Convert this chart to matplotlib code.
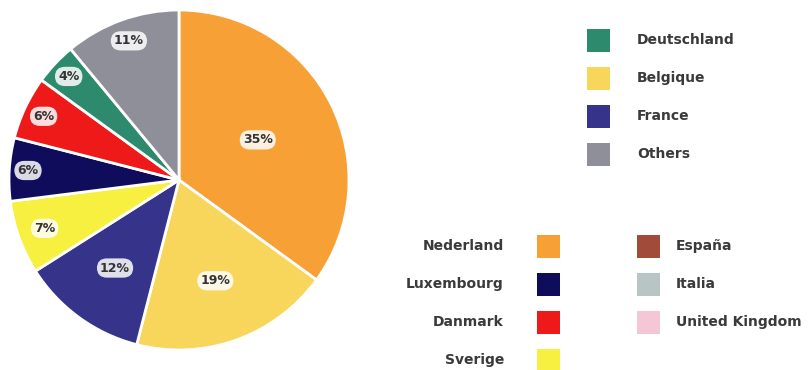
import matplotlib.pyplot as plt
import numpy as np
from matplotlib.patches import Rectangle

# parts par pays, dans le sens horaire depuis le haut
pays = ['Nederland', 'Belgique', 'France', 'Sverige', 'Luxembourg',
        'Danmark', 'Deutschland', 'Others']
parts = [35, 19, 12, 7, 6, 6, 4, 11]
couleurs = ['#F7A035', '#F8D65C', '#35338A', '#F8F040', '#100C5C',
            '#EE1A1A', '#2E8A6C', '#8E8F98']

# position radiale des étiquettes (fraction du rayon)
pos_etiq = [0.52, 0.63, 0.64, 0.84, 0.89, 0.88, 0.89, 0.87]

# légendes
leg_haut = ['Deutschland', 'Belgique', 'France', 'Others']
leg_gauche = ['Nederland', 'Luxembourg', 'Danmark', 'Sverige']
leg_droite = ['España', 'Italia', 'United Kingdom']
autres_couleurs = {'España': '#A14B3B', 'Italia': '#B9C5C5', 'United Kingdom': '#F5C6D6'}

coul = dict(zip(pays, couleurs))
coul.update(autres_couleurs)

W, H = 809, 370
fig = plt.figure(figsize=(W / 100, H / 100), dpi=100)

cx, cy, r = 179, 190, 170
ax = fig.add_axes([(cx - r) / W, (cy - r) / H, 2 * r / W, 2 * r / H])
wedges, _ = ax.pie(parts, colors=couleurs, startangle=90, counterclock=False,
                   radius=1, wedgeprops=dict(edgecolor='white', linewidth=2))
ax.set_xlim(-1, 1)
ax.set_ylim(-1, 1)
ax.set_aspect('equal')
ax.axis('off')

for w, p, d in zip(wedges, parts, pos_etiq):
    a = np.deg2rad((w.theta1 + w.theta2) / 2)
    ax.text(d * np.cos(a), d * np.sin(a), '{}%'.format(p), ha='center', va='center',
            fontsize=9, fontweight='bold', color='#333333',
            bbox=dict(boxstyle='round,pad=0.25,rounding_size=0.8', fc='white',
                      ec='none', alpha=0.85))

lg = fig.add_axes([0, 0, 1, 1])
lg.set_xlim(0, W)
lg.set_ylim(H, 0)
lg.axis('off')

def carre(x, y, c):
    lg.add_patch(Rectangle((x, y - 11), 23, 23, fc=c, ec='none'))

txt = dict(fontsize=10, fontweight='bold', color='#3a3a3a', va='center')

for i, nom in enumerate(leg_haut):
    y = 40 + i * 38
    carre(587, y, coul[nom])
    lg.text(637, y, nom, ha='left', **txt)

for i, nom in enumerate(leg_gauche):
    y = 246 + i * 38
    carre(537, y, coul[nom])
    lg.text(504, y, nom, ha='right', **txt)

for i, nom in enumerate(leg_droite):
    y = 246 + i * 38
    carre(637, y, coul[nom])
    lg.text(676, y, nom, ha='left', **txt)

fig.savefig('out.png', dpi=100)
